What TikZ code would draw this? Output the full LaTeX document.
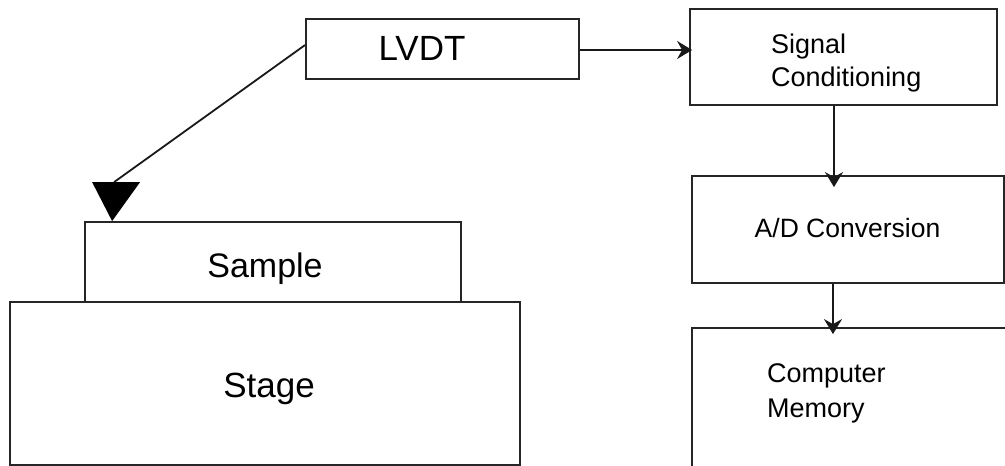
\documentclass[tikz,border=0pt]{standalone}
\usepackage{fontspec}
\setmainfont{Liberation Sans}
\usetikzlibrary{arrows.meta,calc}
\begin{document}
\begin{tikzpicture}[x=1pt,y=-1pt,
  box/.style={draw=black!85,line width=1.8pt,inner sep=0pt},
  bigtxt/.style={font=\fontsize{35}{40}\selectfont,inner sep=0pt},
  smtxt/.style={font=\fontsize{27}{33}\selectfont,inner sep=0pt,anchor=base west},
  conn/.style={draw=black!90,line width=1.8pt},
  arr/.style={conn,-{Stealth[length=15pt,width=18pt,inset=5pt]}}]
\useasboundingbox (0,0) rectangle (1005,466);
\clip (0,0) rectangle (1005,466);
% boxes
\node[box,minimum width=273pt,minimum height=60pt] (lvdt) at (442.5,49) {};
\node[box,minimum width=307pt,minimum height=96pt] (sc) at (843.5,57) {};
\node[box,minimum width=312pt,minimum height=107pt] (ad) at (848,229.5) {};
\node[box,minimum width=320pt,minimum height=150pt] (cm) at (852,403) {};
\node[box,minimum width=510pt,minimum height=163pt] (stage) at (265,383.5) {};
\node[box,minimum width=376pt,minimum height=80pt] (sample) at (273,262) {};
% texts
\node[bigtxt,anchor=base] (tl) at (422,60) {LVDT};
\node[bigtxt,anchor=base,font=\fontsize{34}{40}\selectfont] (ts) at (265,277) {Sample};
\node[bigtxt,anchor=base] (tst) at (269,397) {Stage};
\node[smtxt] (t1) at (771,53) {Signal};
\node[smtxt] (t2) at (771,86) {Conditioning};
\node[smtxt,anchor=base,font=\fontsize{26.5}{32}\selectfont] (t3) at (847.5,237) {A/D Conversion};
\node[smtxt] (t4) at (767,382) {Computer};
\node[smtxt] (t5) at (767,417) {Memory};
% connector end points
\coordinate (tip) at ($(sample.north west)+(28,0)$);
\coordinate (tbase) at ($(tip)+(2,-39)$);
\coordinate (lstart) at ($(lvdt.west)+(0,-4)$);
\coordinate (a1s) at ($(lvdt.east)+(0,1)$);
\coordinate (a1e) at (a1s -| sc.west);
\coordinate (a2s) at ($(sc.south)+(-9.5,0)$);
\coordinate (a2e) at (a2s |- ad.north);
\coordinate (a3s) at ($(ad.south)+(-15,0)$);
\coordinate (a3e) at (a3s |- cm.north);
% connectors
\draw[conn] (lstart) -- (tbase);
\fill[black] ($(tip)+(-20,-39)$) -- ($(tip)+(28,-39)$) -- (tip) -- cycle;
\draw[arr,shorten >=-3pt] (a1s) -- (a1e);
\draw[arr,shorten >=-12pt] (a2s) -- (a2e);
\draw[arr,shorten >=-7pt] (a3s) -- (a3e);
\end{tikzpicture}
\end{document}
